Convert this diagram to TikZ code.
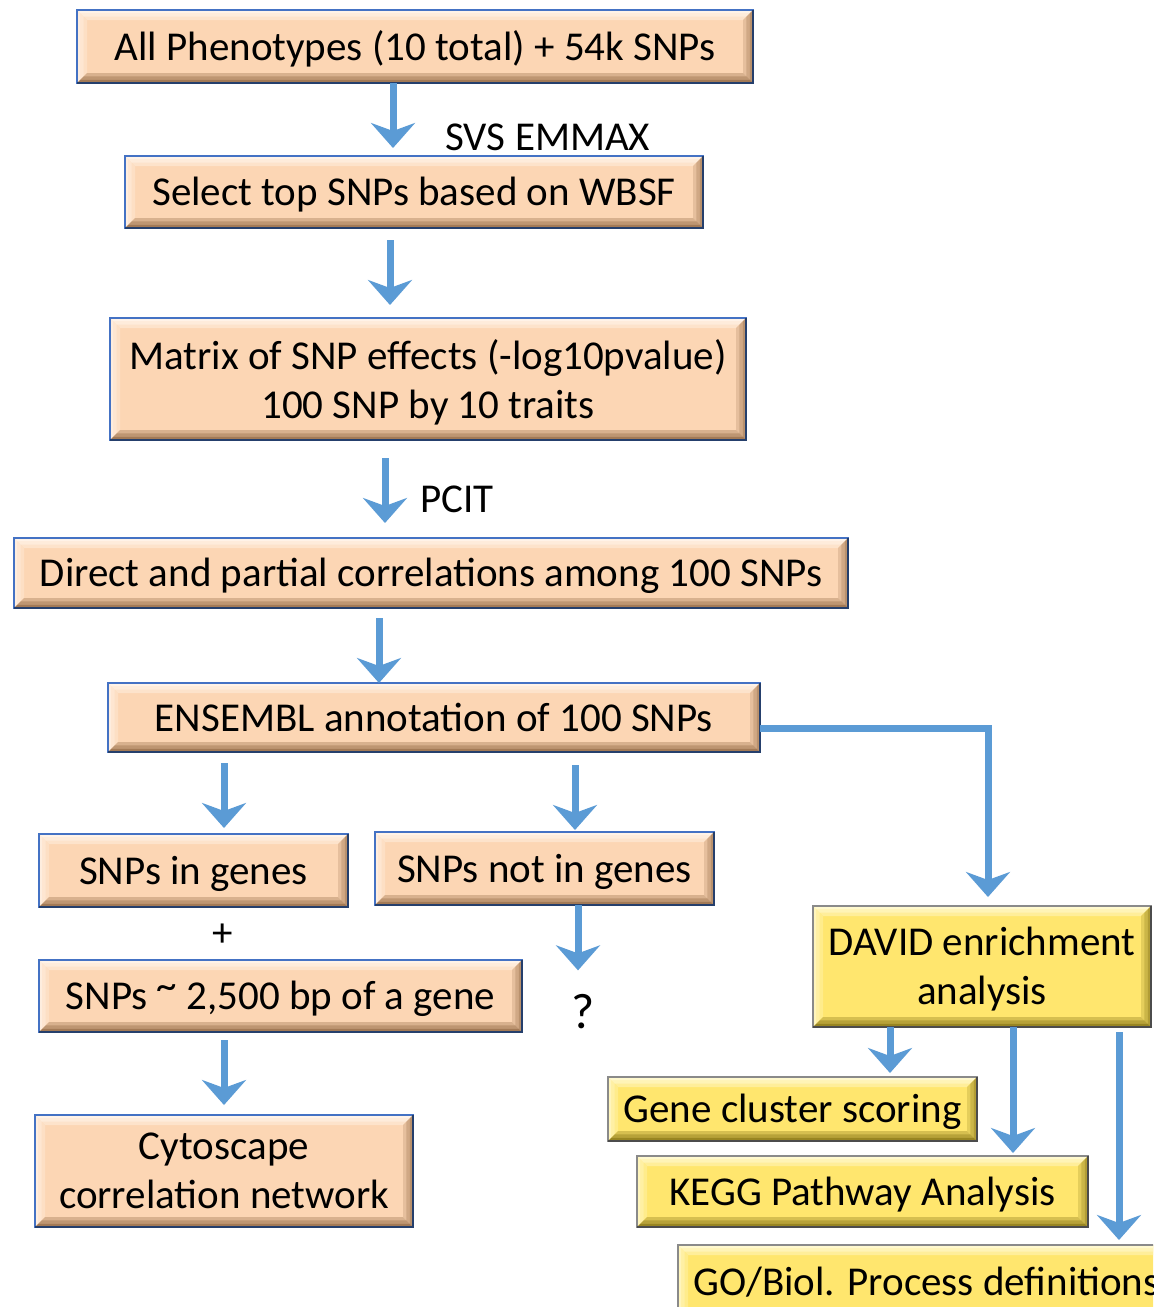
\documentclass[tikz,border=0pt]{standalone}
\usepackage{fontspec}
\setmainfont{Carlito}
\usetikzlibrary{arrows.meta}

\definecolor{peach}{HTML}{FCD6B4}
\definecolor{peachlight}{HTML}{FFF3E8}
\definecolor{peachdark}{HTML}{A37A56}
\definecolor{gold}{HTML}{FFE66E}
\definecolor{goldlight}{HTML}{FFF9CF}
\definecolor{golddark}{HTML}{988522}
\definecolor{boxblue}{HTML}{4472C4}
\definecolor{boxgray}{HTML}{8A8A8A}
\definecolor{flow}{HTML}{5B9BD5}

% one ring of bevel bands of width #2 around node #1 (top, left, right, bottom colours)
\newcommand\bevring[6]{%
  \fill[#3] (#1.north west) -- (#1.north east)
    -- ([shift={(-#2,-#2)}]#1.north east) -- ([shift={(#2,-#2)}]#1.north west) -- cycle;
  \fill[#4] (#1.north west) -- ([shift={(#2,-#2)}]#1.north west)
    -- ([shift={(#2,#2)}]#1.south west) -- (#1.south west) -- cycle;
  \fill[#5] (#1.north east) -- (#1.south east)
    -- ([shift={(-#2,#2)}]#1.south east) -- ([shift={(-#2,-#2)}]#1.north east) -- cycle;
  \fill[#6] (#1.south west) -- ([shift={(#2,#2)}]#1.south west)
    -- ([shift={(-#2,#2)}]#1.south east) -- (#1.south east) -- cycle;
}
% raised bevel in stepped tones, then the frame (darker on the shadow sides)
\newcommand\bevelon[5]{%
  \bevring{#1}{5pt}{#3!45!#2}{#3!30!#2}{#4!25!#2}{#4!40!#2}%
  \bevring{#1}{3.3pt}{#3!75!#2}{#3!55!#2}{#4!50!#2}{#4!70!#2}%
  \bevring{#1}{1.6pt}{#3}{#3!80!#2}{#4!75!#2}{#4}%
  \draw[#5, line width=1.25pt] (#1.north west) rectangle (#1.south east);
  \draw[#5!55!black, line width=1.25pt] (#1.north east) -- (#1.south east) -- (#1.south west);
}

\tikzset{
  boxbase/.style={rectangle, align=center, inner sep=0pt, outer sep=0pt, text depth=0.05em},
  pbox/.style={boxbase, fill=peach},
  ybox/.style={boxbase, fill=gold},
  lbl/.style={inner sep=0pt},
  arr/.style={draw=flow, line width=3.5pt,
    -{Stealth[length=12.5pt, width=22pt, inset=4pt]}},
}

\begin{document}
\begin{tikzpicture}[x=0.5pt, y=-0.5pt, font=\fontsize{20.5}{24.5}\selectfont]
\clip (0,0) rectangle (1153,1307);
\fill[white] (0,0) rectangle (1153,1307);

% main pipeline
\node[pbox, minimum width=338pt, minimum height=36.5pt] (b1) at (415,46.5) {All Phenotypes (10 total) + 54k SNPs};
\node[pbox, minimum width=289pt, minimum height=36pt] (b2) at (414,192) {Select top SNPs based on WBSF};
\node[pbox, minimum width=318pt, minimum height=61pt] (b3) at (428,379) {Matrix of SNP effects (-log10pvalue)\\100 SNP by 10 traits};
\node[pbox, minimum width=417pt, minimum height=35pt] (b4) at (431,573) {Direct and partial correlations among 100 SNPs};
\node[pbox, minimum width=326pt, minimum height=34.5pt] (b5) at (434,717.5) {ENSEMBL annotation of 100 SNPs};

% gene-based branches
\node[pbox, minimum width=154.5pt, minimum height=36.5pt] (b6) at (193.5,870.5) {SNPs in genes};
\node[pbox, minimum width=169.5pt, minimum height=36.5pt] (b7) at (544.5,868.5) {SNPs not in genes};
\node[pbox, minimum width=241.5pt, minimum height=36pt] (b8) at (280.5,996) {SNPs \raisebox{0.25em}{\textasciitilde} 2,500 bp of a gene};
\node[pbox, minimum width=189pt, minimum height=56pt] (b9) at (224,1171) {Cytoscape\\correlation network};

% enrichment branch
\node[ybox, minimum width=169pt, minimum height=60.5pt] (b10) at (982,966.5) {DAVID enrichment\\analysis};
\node[ybox, minimum width=184.5pt, minimum height=32pt] (b11) at (792.5,1109) {Gene cluster scoring};
\node[ybox, minimum width=225.5pt, minimum height=35.5pt] (b12) at (862.5,1191.5) {KEGG Pathway Analysis};
\node[ybox, minimum width=248.5pt, minimum height=36.5pt] (b13) at (926.5,1281.5) {GO/Biol. Process definitions};

\foreach \n in {b1,b2,b3,b4,b5,b6,b7,b8,b9}
  {\bevelon{\n}{peach}{peachlight}{peachdark}{boxblue}}
\foreach \n in {b10,b11,b12,b13}
  {\bevelon{\n}{gold}{goldlight}{golddark}{boxgray}}

% free labels
\node[lbl, anchor=west] (svs) at (445,137) {SVS EMMAX};
\node[lbl, anchor=west] (pcit) at (420,499) {PCIT};
\node[lbl] (plus) at (223,935) {+};
\node[lbl, font=\fontsize{25}{30}\selectfont] (q) at (583,1012) {?};

% connectors
\draw[arr, shorten >=4pt] ([xshift=-11pt]b1.south) -- ([xshift=-11pt]b1.south |- b2.north);
\draw[arr, shorten <=6pt, shorten >=6.5pt] ([xshift=-12pt]b2.south) -- ([xshift=-12pt]b2.south |- b3.north);
\draw[arr, shorten <=9pt, shorten >=7.5pt] ([xshift=-21.5pt]b3.south) -- ([xshift=-21.5pt]b3.south |- b4.north);
\draw[arr, shorten <=5pt] ([xshift=-26pt]b4.south) -- ([xshift=-26pt]b4.south |- b5.north);
\draw[arr, shorten <=5.5pt, shorten >=3pt] ([xshift=15.25pt]b6.north |- b5.south) -- ([xshift=15.25pt]b6.north);
\draw[arr, shorten <=6.5pt, shorten >=1pt] ([xshift=15.25pt]b7.north |- b5.south) -- ([xshift=15.25pt]b7.north);
\draw[arr, shorten >=12pt] ([xshift=-2.5pt]q.north |- b7.south) -- ([xshift=-2.5pt]q.north);
\draw[arr, shorten <=4pt, shorten >=5pt] (b9.north |- b8.south) -- (b9.north);
\draw[arr, shorten >=4.5pt] ([yshift=-5.25pt]b5.east) -| ([xshift=3pt]b10.north);
\draw[arr, shorten >=2pt] ([xshift=48.75pt]b11.north |- b10.south) -- ([xshift=48.75pt]b11.north);
\draw[arr, shorten >=1.5pt] ([xshift=75.25pt]b12.north |- b10.south) -- ([xshift=75.25pt]b12.north);
\draw[arr, shorten <=2.5pt, shorten >=2.5pt] ([xshift=96.25pt]b13.north |- b10.south) -- ([xshift=96.25pt]b13.north);
\end{tikzpicture}
\end{document}
